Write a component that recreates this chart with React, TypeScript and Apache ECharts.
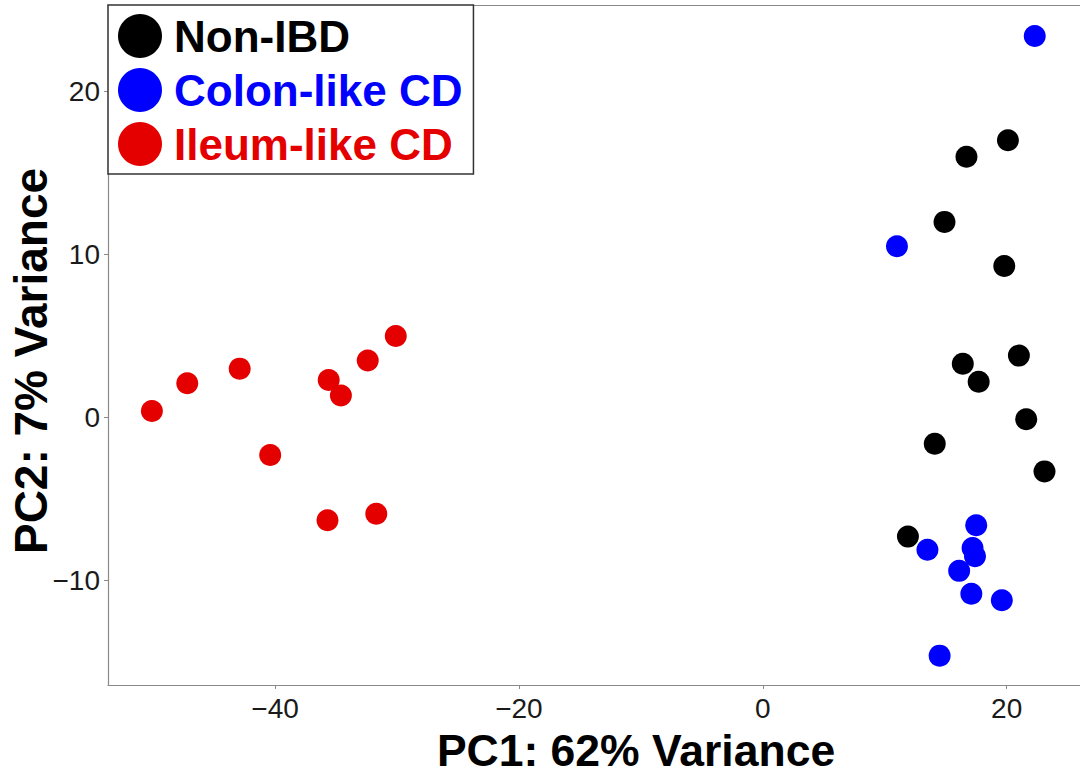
import React, { useEffect, useRef } from "react";
import * as echarts from "echarts";

const groupNames = ["Non-IBD", "Colon-like CD", "Ileum-like CD"];
const groupColors = ["#000000", "#0000FF", "#E50000"];

const nonIBD: number[][] = [
  [20.1, 17.0], [16.7, 16.0], [14.9, 12.0], [19.8, 9.3], [16.4, 3.3], [17.7, 2.2],
  [21.0, 3.8], [21.6, -0.1], [14.1, -1.6], [23.1, -3.3], [11.9, -7.3],
];
const colonLike: number[][] = [
  [22.3, 23.4], [11.0, 10.5], [17.5, -6.6], [13.5, -8.1], [17.2, -8.0], [17.4, -8.5],
  [16.1, -9.4], [17.1, -10.8], [19.6, -11.2], [14.5, -14.6],
];
const ileumLike: number[][] = [
  [-50.1, 0.4], [-47.2, 2.1], [-42.9, 3.0], [-40.4, -2.3], [-35.6, 2.3], [-34.6, 1.35],
  [-32.4, 3.5], [-30.1, 5.0], [-35.7, -6.3], [-31.7, -5.9],
];

const xTicks = [-40, -20, 0, 20];
const yTicks = [-10, 0, 10, 20];
const xTitle = "PC1: 62% Variance";
const yTitle = "PC2: 7% Variance";

const fmt = (v: number) => String(v).replace("-", "\u2212");

export default function App() {
  const ref = useRef<HTMLDivElement>(null);
  useEffect(() => {
    if (!ref.current) return;
    const chart = echarts.init(ref.current, null, { renderer: "svg" });
    const font = "'Liberation Sans', Arial, sans-serif";
    const axisLine = { show: true, onZero: false, lineStyle: { color: "#8a8a8a", width: 1.2 } };
    const xRange = { min: -53.7, max: 32.9 };
    const datasets = [nonIBD, colonLike, ileumLike];
    chart.setOption({
      animation: false,
      backgroundColor: "#ffffff",
      textStyle: { fontFamily: font },
      grid: { left: 108, right: -84, top: 5, bottom: 88, containLabel: false, outerBoundsMode: "none" },
      legend: {
        left: 108,
        top: 5,
        orient: "vertical",
        itemWidth: 58,
        itemHeight: 44,
        itemGap: 10,
        padding: [9, 11, 8, 10],
        backgroundColor: "#ffffff",
        borderColor: "#333333",
        borderWidth: 1.5,
        icon: "circle",
        z: 10,
        data: groupNames.map((n, i) => ({
          name: n,
          textStyle: { color: groupColors[i], fontSize: 44, fontWeight: "bold", fontFamily: font },
        })),
      },
      graphic: [
        {
          type: "text",
          x: 31,
          y: 361,
          rotation: Math.PI / 2,
          style: {
            text: yTitle,
            fill: "#000",
            font: `bold 46px ${font}`,
            align: "center",
            verticalAlign: "middle",
          },
        },
      ],
      xAxis: [
        {
          type: "value",
          ...xRange,
          position: "bottom",
          axisLine,
          axisTick: { show: true, length: 4, lineStyle: { color: "#8a8a8a" }, customValues: xTicks },
          axisLabel: { color: "#1a1a1a", fontSize: 28, fontFamily: font, margin: 9, customValues: xTicks, formatter: fmt },
          splitLine: { show: false },
          name: xTitle,
          nameLocation: "middle",
          nameGap: 47,
          nameTextStyle: {
            color: "#000", fontSize: 44.5, fontWeight: "bold", fontFamily: font,
            verticalAlign: "top", lineHeight: 36,
          },
        },
        {
          type: "value",
          ...xRange,
          position: "top",
          axisLine,
          axisTick: { show: false },
          axisLabel: { show: false },
          splitLine: { show: false },
        },
      ],
      yAxis: {
        type: "value",
        min: -16.4,
        max: 25.3,
        axisLine,
        axisTick: { show: true, length: 4, lineStyle: { color: "#8a8a8a" }, customValues: yTicks },
        axisLabel: { color: "#1a1a1a", fontSize: 28, fontFamily: font, margin: 8, customValues: yTicks, formatter: fmt },
        splitLine: { show: false },
      },
      series: groupNames.map((n, i) => ({
        name: n,
        type: "scatter",
        symbol: "circle",
        symbolSize: 22,
        itemStyle: { color: groupColors[i], opacity: 1 },
        data: datasets[i],
      })),
    });
    return () => chart.dispose();
  }, []);
  return (
    <div
      ref={ref}
      style={{ position: "fixed", left: 0, top: 0, width: 1080, height: 773, background: "#fff" }}
    />
  );
}
